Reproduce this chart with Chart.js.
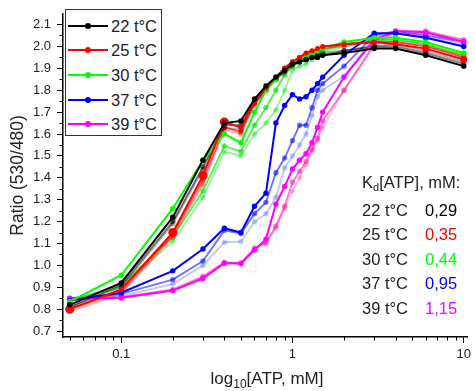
<!DOCTYPE html>
<html>
<head>
<meta charset="utf-8">
<script src="https://cdn.jsdelivr.net/npm/chart.js@4.4.0/dist/chart.umd.min.js"></script>
<style>
  body { margin: 0; background: #fff; }
  #wrap { position: relative; width: 475px; height: 391px; font-family: "Liberation Sans", Arial, sans-serif; color: #222; }
  #legend { position: absolute; left: 65px; top: 9px; width: 95px; height: 125px; border: 1px solid #333; background: #fff; }
  .item { position: absolute; left: 0; height: 20px; width: 95px; }
  .item .ln { position: absolute; left: 2px; top: 9px; width: 40px; height: 2px; }
  .item .dot { position: absolute; left: 19px; top: 7px; width: 6px; height: 6px; border-radius: 50%; }
  .item .tx { position: absolute; left: 45px; top: 0; font-size: 16.5px; line-height: 20px; white-space: nowrap; }
  #kd { position: absolute; left: 362px; top: 0; font-size: 16.5px; line-height: 20px; }
  #kd div { position: absolute; white-space: nowrap; }
  #xtitle { position: absolute; left: 0; width: 534px; top: 368px; text-align: center; font-size: 17px; line-height: 22px; }
  #xtitle sub { font-size: 12px; vertical-align: -4px; line-height: 0; }
</style>
</head>
<body>
<div id="wrap">
  <canvas id="myChart" width="475" height="391"></canvas>
  <div id="legend"></div>
  <div id="kd"></div>
  <div id="xtitle">log<sub>10</sub>[ATP, mM]</div>
</div>
<script>
// DATA
const conc = [0.05, 0.1, 0.2, 0.3, 0.4, 0.5, 0.6, 0.7, 0.8, 0.9, 1, 1.1, 1.2, 1.3, 1.4, 1.5, 2, 3, 4, 6, 10];

const t22a = [0.82, 0.92, 1.22, 1.48, 1.65, 1.66, 1.76, 1.82, 1.86, 1.89, 1.92, 1.93, 1.94, 1.95, 1.95, 1.96, 1.97, 1.99, 1.99, 1.96, 1.91];
const t22b = [0.81, 0.91, 1.20, 1.45, 1.64, 1.64, 1.75, 1.81, 1.85, 1.89, 1.92, 1.93, 1.94, 1.95, 1.96, 1.96, 1.98, 2.00, 2.00, 1.97, 1.92];
const t22c = [0.81, 0.90, 1.19, 1.44, 1.63, 1.62, 1.74, 1.80, 1.85, 1.88, 1.91, 1.93, 1.94, 1.95, 1.96, 1.97, 1.98, 2.00, 2.01, 1.98, 1.93];

const t25a = [0.80, 0.89, 1.15, 1.41, 1.655, 1.63, 1.75, 1.81, 1.86, 1.90, 1.93, 1.95, 1.97, 1.98, 1.99, 2.00, 2.01, 2.02, 2.01, 1.99, 1.94];
const t25b = [0.80, 0.88, 1.14, 1.39, 1.63, 1.61, 1.74, 1.80, 1.86, 1.90, 1.93, 1.95, 1.96, 1.97, 1.98, 1.99, 2.01, 2.02, 2.02, 2.00, 1.95];
const t25c = [0.79, 0.87, 1.13, 1.37, 1.62, 1.60, 1.73, 1.80, 1.85, 1.89, 1.92, 1.94, 1.96, 1.97, 1.98, 1.99, 2.00, 2.02, 2.02, 2.00, 1.96];

const t30a = [0.835, 0.955, 1.26, 1.48, 1.60, 1.56, 1.70, 1.80, 1.85, 1.90, 1.93, 1.94, 1.95, 1.97, 1.98, 1.99, 2.02, 2.04, 2.04, 2.02, 1.97];
const t30b = [0.84, 0.91, 1.13, 1.34, 1.545, 1.52, 1.64, 1.72, 1.80, 1.87, 1.91, 1.93, 1.94, 1.96, 1.97, 1.98, 2.01, 2.03, 2.03, 2.01, 1.96];
const t30c = [0.84, 0.90, 1.11, 1.31, 1.52, 1.50, 1.60, 1.65, 1.71, 1.80, 1.89, 1.91, 1.92, 1.94, 1.95, 1.97, 2.00, 2.03, 2.03, 2.01, 1.95];

const t37a = [0.84, 0.875, 0.975, 1.075, 1.17, 1.15, 1.27, 1.33, 1.65, 1.73, 1.78, 1.76, 1.77, 1.80, 1.83, 1.86, 1.96, 2.06, 2.06, 2.04, 2.00];
const t37b = [0.85, 0.87, 0.935, 1.02, 1.16, 1.146, 1.236, 1.288, 1.423, 1.49, 1.57, 1.64, 1.64, 1.72, 1.80, 1.83, 1.91, 2.05, 2.07, 2.05, 2.02];
const t37c = [0.85, 0.86, 0.915, 1.00, 1.106, 1.109, 1.199, 1.236, 1.311, 1.445, 1.50, 1.55, 1.60, 1.684, 1.77, 1.80, 1.864, 2.04, 2.06, 2.04, 2.01];

const t39a = [0.848, 0.852, 0.885, 0.94, 1.01, 1.01, 1.07, 1.12, 1.28, 1.36, 1.44, 1.48, 1.51, 1.56, 1.63, 1.70, 1.86, 2.03, 2.07, 2.065, 2.02];
const t39b = [0.845, 0.855, 0.89, 0.95, 1.015, 1.01, 1.08, 1.10, 1.18, 1.27, 1.38, 1.43, 1.475, 1.53, 1.58, 1.66, 1.80, 2.01, 2.07, 2.07, 2.03];
const t39c = [0.85, 0.85, 0.885, 0.945, 1.01, 1.005, 1.075, 1.11, 1.17, 1.26, 1.34, 1.40, 1.46, 1.52, 1.57, 1.63, 1.80, 2.00, 2.06, 2.06, 2.03];

const tempLabels = ['22 t°C', '25 t°C', '30 t°C', '37 t°C', '39 t°C'];
const kdValues = ['0,29', '0,35', '0,44', '0,95', '1,15'];

const xMajor = [0.1, 1, 10];
const xMinor = [0.05, 0.06, 0.07, 0.08, 0.09, 0.2, 0.3, 0.4, 0.5, 0.6, 0.7, 0.8, 0.9, 2, 3, 4, 5, 6, 7, 8, 9];
const yMajor = [0.7, 0.8, 0.9, 1.0, 1.1, 1.2, 1.3, 1.4, 1.5, 1.6, 1.7, 1.8, 1.9, 2.0, 2.1];
const yMinor = [0.75, 0.85, 0.95, 1.05, 1.15, 1.25, 1.35, 1.45, 1.55, 1.65, 1.75, 1.85, 1.95, 2.05];

// COLORS (main, replicate 2, replicate 3)
const colors = [
    ['#000000', 'rgba(0,0,0,0.5)', 'rgba(0,0,0,0.3)'],
    ['#ff0000', 'rgba(255,0,0,0.6)', 'rgba(255,0,0,0.35)'],
    ['#00ff00', 'rgba(0,230,0,0.65)', 'rgba(0,220,0,0.4)'],
    ['#0000ff', 'rgba(0,0,255,0.55)', 'rgba(60,90,230,0.32)'],
    ['#ff00ff', 'rgba(255,40,170,0.6)', 'rgba(255,60,150,0.35)']
];
const series = [[t22a, t22b, t22c], [t25a, t25b, t25c], [t30a, t30b, t30c], [t37a, t37b, t37c], [t39a, t39b, t39c]];

// red main has bigger markers at a few points
const redRadius = t25a.map((v, i) => [0, 2, 3, 4].includes(i) ? 4.5 : (i >= 19 ? 3.5 : 2.5));

function makeDataset(values, color, width, radius) {
    return {
        data: values.map((v, i) => ({x: conc[i], y: v})),
        borderColor: color,
        backgroundColor: color,
        pointBackgroundColor: color,
        pointBorderWidth: 0,
        pointRadius: radius,
        borderWidth: width
    };
}

const datasets = [];
// main lines first so they sit on top
series.forEach((grp, g) => {
    datasets.push(makeDataset(grp[0], colors[g][0], 2, g === 1 ? redRadius : 2.7));
});
series.forEach((grp, g) => {
    datasets.push(makeDataset(grp[1], colors[g][1], 1.9, 2.7));
    datasets.push(makeDataset(grp[2], colors[g][2], 1.9, 2.7));
});

// minor tick marks
const minorTicks = {
    id: 'minorTicks',
    afterDraw(chart) {
        const ctx = chart.ctx;
        const xs = chart.scales.x, ys = chart.scales.y;
        ctx.save();
        ctx.strokeStyle = '#000';
        ctx.lineWidth = 1;
        ctx.beginPath();
        xMinor.forEach(v => {
            const px = Math.round(xs.getPixelForValue(v)) + 0.5;
            ctx.moveTo(px, xs.top);
            ctx.lineTo(px, xs.top + 3.5);
        });
        yMinor.forEach(v => {
            const py = Math.round(ys.getPixelForValue(v)) + 0.5;
            ctx.moveTo(ys.right, py);
            ctx.lineTo(ys.right - 3.5, py);
        });
        ctx.stroke();
        ctx.restore();
    }
};

const font = "'Liberation Sans', Arial, sans-serif";

new Chart(document.getElementById('myChart'), {
    type: 'line',
    data: { datasets: datasets },
    options: {
        responsive: false,
        animation: false,
        devicePixelRatio: 1,
        layout: { padding: { top: 8, right: 4, left: 0, bottom: 0 } },
        plugins: { legend: { display: false }, tooltip: { enabled: false } },
        scales: {
            x: {
                type: 'logarithmic',
                min: 0.0457,
                max: 10.56,
                afterBuildTicks: s => { s.ticks = xMajor.map(v => ({value: v})); },
                afterFit: s => { s.height = 54; },
                ticks: { callback: v => String(v), color: '#222', font: { family: font, size: 13 }, padding: 4, maxRotation: 0, autoSkip: false },
                grid: { drawOnChartArea: false, color: '#000', tickLength: 6 },
                border: { color: '#000', width: 1.5 }
            },
            y: {
                type: 'linear',
                min: 0.673,
                max: 2.149,
                afterBuildTicks: s => { s.ticks = yMajor.map(v => ({value: v})); },
                afterFit: s => { s.width = 63; },
                ticks: { callback: v => v.toFixed(1), color: '#222', font: { family: font, size: 13 }, padding: 6, autoSkip: false },
                grid: { drawOnChartArea: false, color: '#000', tickLength: 6 },
                border: { color: '#000', width: 1.5 },
                title: { display: true, text: 'Ratio (530/480)', color: '#222', font: { family: font, size: 17.5, weight: 'normal' }, padding: { top: 8, bottom: 0 } }
            }
        }
    },
    plugins: [minorTicks]
});

// LEGEND (html overlay)
const legend = document.getElementById('legend');
tempLabels.forEach((lab, i) => {
    const item = document.createElement('div');
    item.className = 'item';
    item.style.top = (5.5 + i * 24.7) + 'px';
    item.innerHTML = '<div class="ln" style="background:' + colors[i][0] + '"></div>' +
        '<div class="dot" style="background:' + colors[i][0] + '"></div>' +
        '<div class="tx">' + lab + '</div>';
    legend.appendChild(item);
});

// Kd BLOCK
const kd = document.getElementById('kd');
const head = document.createElement('div');
head.style.top = '172px';
head.innerHTML = 'K<sub style="font-size:11px;vertical-align:-3px;line-height:0">d</sub>[ATP], mM:';
kd.appendChild(head);
tempLabels.forEach((lab, i) => {
    const row = document.createElement('div');
    row.style.top = (200 + i * 24.4) + 'px';
    row.innerHTML = '<span>' + lab + '</span><span style="position:absolute;left:63px;color:' + colors[i][0] + '">' + kdValues[i] + '</span>';
    kd.appendChild(row);
});
</script>
</body>
</html>
